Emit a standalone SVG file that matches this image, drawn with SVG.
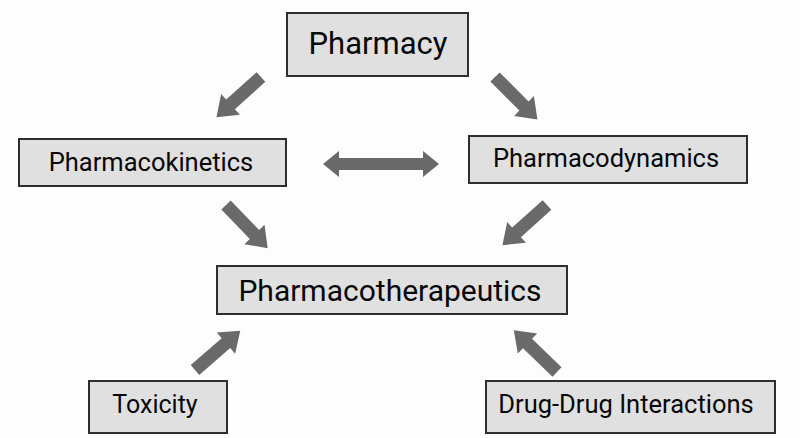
<svg xmlns="http://www.w3.org/2000/svg" xmlns:xlink="http://www.w3.org/1999/xlink" width="800" height="438" viewBox="0 0 800 438">
<style>
.box{fill:#e0e0e0;stroke:#2e2e2e;stroke-width:2}
.lbl{font-family:Roboto,"Liberation Sans",sans-serif;fill:#080808;text-anchor:middle}
.arr{fill:#6a6a6a}
</style>
<defs>
<path id="blk" d="M0,-6.5 L41,-6.5 L41,-14 L60,0 L41,14 L41,6.5 L0,6.5 Z"/>
</defs>
<rect width="800" height="438" fill="#fdfdfd"/>
<g id="pharmacy"><rect class="box" x="287" y="13" width="181" height="63"/><text class="lbl" x="378" y="54" font-size="31">Pharmacy</text></g>
<g id="pharmacokinetics"><rect class="box" x="19" y="139" width="267" height="47"/><text class="lbl" x="151" y="171" font-size="25.5">Pharmacokinetics</text></g>
<g id="pharmacodynamics"><rect class="box" x="469" y="136" width="278" height="47"/><text class="lbl" x="606" y="167" font-size="25.5">Pharmacodynamics</text></g>
<g id="pharmacotherapeutics"><rect class="box" x="217" y="266" width="350" height="48"/><text class="lbl" x="390" y="301" font-size="30">Pharmacotherapeutics</text></g>
<g id="toxicity"><rect class="box" x="89" y="381" width="138" height="52"/><text class="lbl" x="155" y="413" font-size="25">Toxicity</text></g>
<g id="ddi"><rect class="box" x="486" y="381" width="289" height="52"/><text class="lbl" x="626" y="413" font-size="25.5">Drug-Drug Interactions</text></g>
<g id="connectors" class="arr">
<use xlink:href="#blk" transform="translate(261,77) rotate(138)"/>
<use xlink:href="#blk" transform="translate(495,77) rotate(45)"/>
<path d="M323,164 L339,151 L339,158 L423,158 L423,151 L439,164 L423,177 L423,170 L339,170 L339,177 Z"/>
<use xlink:href="#blk" transform="translate(226,205) rotate(46)"/>
<use xlink:href="#blk" transform="translate(547,205) rotate(138)"/>
<use xlink:href="#blk" transform="translate(195,370) rotate(-41)"/>
<use xlink:href="#blk" transform="translate(557,372) rotate(-136)"/>
</g>
</svg>
